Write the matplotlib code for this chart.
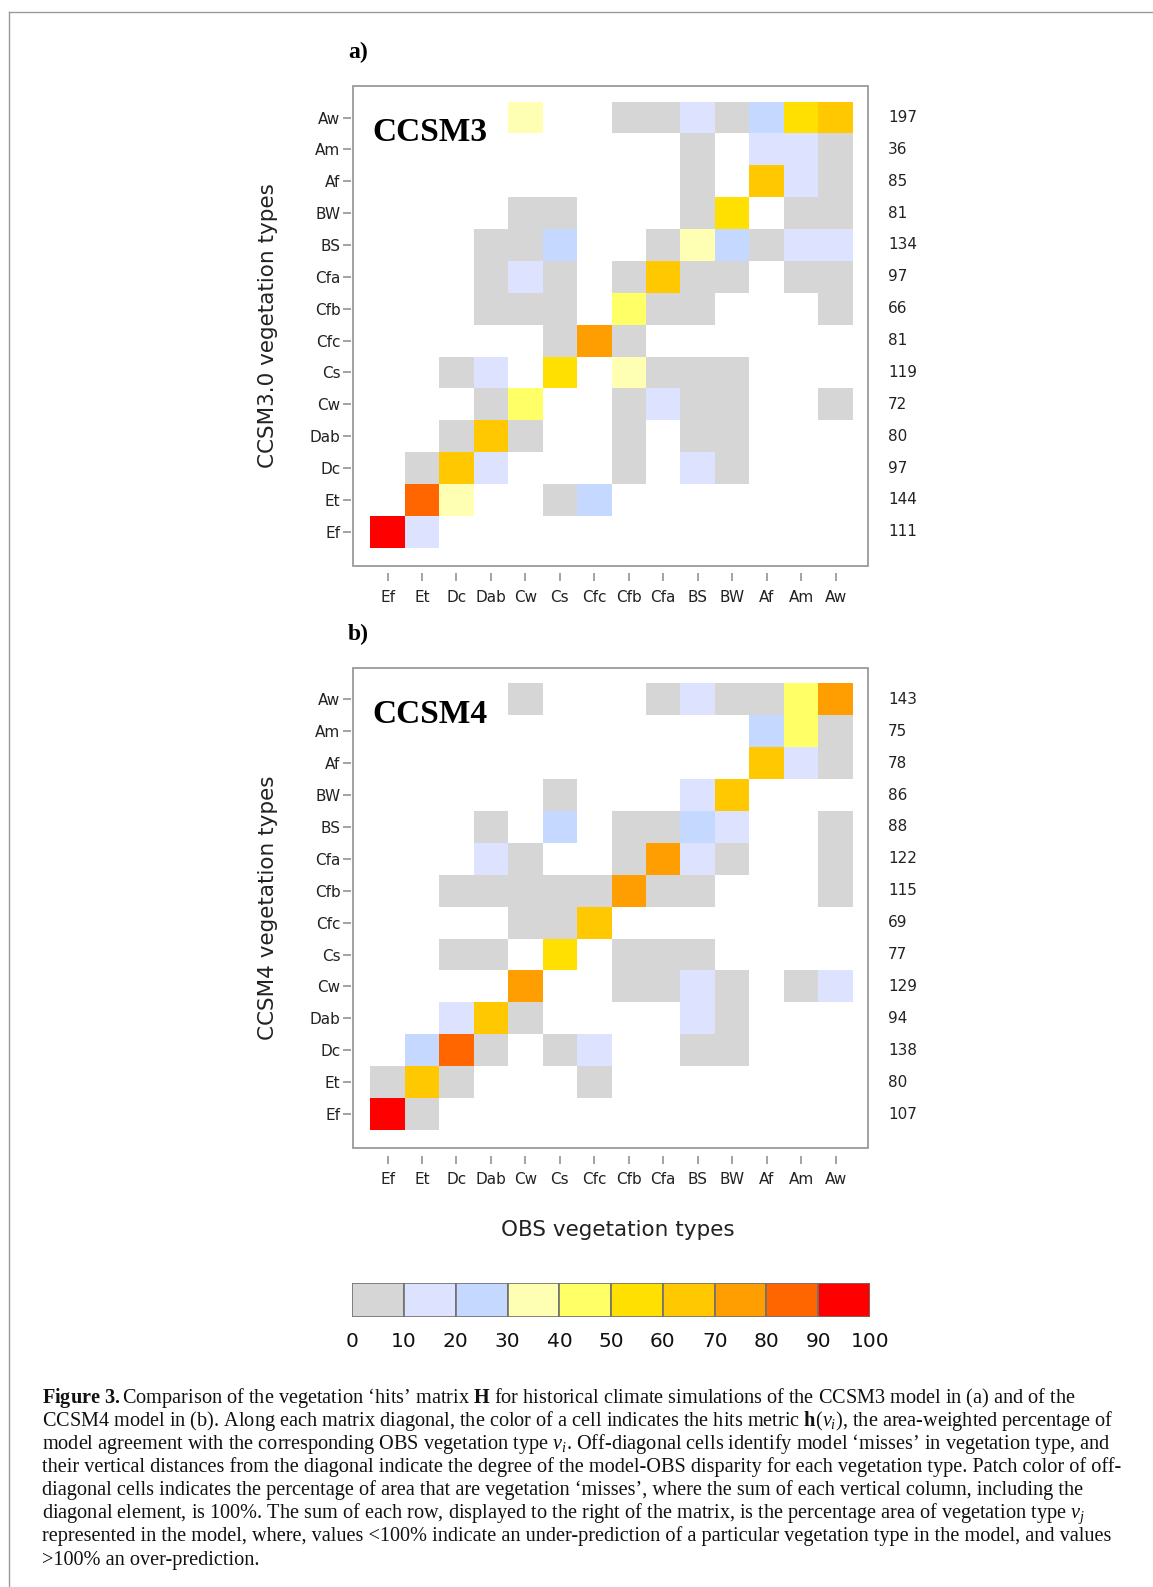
import numpy as np
import matplotlib.pyplot as plt
from matplotlib.colors import ListedColormap, BoundaryNorm
from matplotlib.patches import Rectangle
from matplotlib.lines import Line2D

plt.rcParams['mathtext.fontset'] = 'custom'
plt.rcParams['mathtext.rm'] = 'Liberation Serif'
plt.rcParams['mathtext.it'] = 'Liberation Serif:italic'
plt.rcParams['mathtext.bf'] = 'Liberation Serif:bold'

# vegetation types, OBS on x (left -> right), model on y (bottom -> top)
types = ['Ef', 'Et', 'Dc', 'Dab', 'Cw', 'Cs', 'Cfc', 'Cfb', 'Cfa', 'BS', 'BW', 'Af', 'Am', 'Aw']

# hits matrix in %, rows from top (Aw) down to Ef, columns follow `types`, 0 = empty
#               Ef  Et  Dc Dab  Cw  Cs Cfc Cfb Cfa  BS  BW  Af  Am  Aw
hits_ccsm3 = [[ 0,  0,  0,  0, 33,  0,  0,  4,  6, 12,  7, 22, 54, 63],   # Aw
              [ 0,  0,  0,  0,  0,  0,  0,  0,  0,  3,  0, 13, 16,  4],   # Am
              [ 0,  0,  0,  0,  0,  0,  0,  0,  0,  2,  0, 64, 14,  5],   # Af
              [ 0,  0,  0,  0,  5,  3,  0,  0,  0,  6, 57,  0,  4,  6],   # BW
              [ 0,  0,  0,  4,  8, 21,  0,  0,  7, 36, 23,  2, 11, 12],   # BS
              [ 0,  0,  0,  3, 11,  6,  0,  8, 62,  5,  3,  0,  2,  4],   # Cfa
              [ 0,  0,  0,  2,  5,  4,  0, 47,  7,  3,  0,  0,  0,  2],   # Cfb
              [ 0,  0,  0,  0,  0,  3, 76,  2,  0,  0,  0,  0,  0,  0],   # Cfc
              [ 0,  0,  3, 12,  0, 57,  0, 34,  6,  5,  2,  0,  0,  0],   # Cs
              [ 0,  0,  0,  5, 44,  0,  0,  4, 13,  4,  2,  0,  0,  1],   # Cw
              [ 0,  0,  6, 63,  4,  0,  0,  2,  0,  3,  2,  0,  0,  0],   # Dab
              [ 0,  3, 66, 11,  0,  0,  0,  3,  0, 12,  2,  0,  0,  0],   # Dc
              [ 0, 86, 32,  0,  0,  3, 22,  0,  0,  0,  0,  0,  0,  0],   # Et
              [97, 11,  0,  0,  0,  0,  0,  0,  0,  0,  0,  0,  0,  0]]   # Ef

hits_ccsm4 = [[ 0,  0,  0,  0,  3,  0,  0,  0,  4, 13,  6,  5, 46, 74],   # Aw
              [ 0,  0,  0,  0,  0,  0,  0,  0,  0,  0,  0, 23, 44,  8],   # Am
              [ 0,  0,  0,  0,  0,  0,  0,  0,  0,  0,  0, 62, 12,  4],   # Af
              [ 0,  0,  0,  0,  0,  3,  0,  0,  0, 13, 66,  0,  0,  0],   # BW
              [ 0,  0,  0,  4,  0, 22,  0,  5,  6, 26, 14,  0,  0,  5],   # BS
              [ 0,  0,  0, 13,  4,  0,  0,  6, 73, 15,  5,  0,  0,  6],   # Cfa
              [ 0,  0,  5,  4,  3,  4,  3, 76,  7,  6,  0,  0,  0,  5],   # Cfb
              [ 0,  0,  0,  0,  3,  4, 62,  0,  0,  0,  0,  0,  0,  0],   # Cfc
              [ 0,  0,  4,  3,  0, 57,  0,  5,  3,  5,  0,  0,  0,  0],   # Cs
              [ 0,  0,  0,  0, 77,  0,  0,  4,  3, 14,  5,  0,  2, 12],   # Cw
              [ 0,  0, 13, 64,  4,  0,  0,  0,  0, 11,  3,  0,  0,  0],   # Dab
              [ 0, 22, 84,  6,  0,  2, 16,  0,  0,  4,  4,  0,  0,  0],   # Dc
              [ 5, 66,  4,  0,  0,  0,  5,  0,  0,  0,  0,  0,  0,  0],   # Et
              [95,  7,  0,  0,  0,  0,  0,  0,  0,  0,  0,  0,  0,  0]]   # Ef

# row sums printed right of each matrix, top (Aw) to bottom (Ef)
rowsum_ccsm3 = [197, 36, 85, 81, 134, 97, 66, 81, 119, 72, 80, 97, 144, 111]
rowsum_ccsm4 = [143, 75, 78, 86, 88, 122, 115, 69, 77, 129, 94, 138, 80, 107]

# colour scale
bounds = [0, 10, 20, 30, 40, 50, 60, 70, 80, 90, 100]
bin_colors = ['#D6D6D6', '#DDE2FF', '#C5D8FF', '#FFFFB3', '#FFFF66',
              '#FFE000', '#FFC800', '#FF9E00', '#FF6600', '#FF0000']

caption = [
    r'$\mathbf{Figure\ 3.}$Comparison of the vegetation ‘hits’ matrix $\mathbf{H}$ for historical climate simulations of the CCSM3 model in (a) and of the',
    r'CCSM4 model in (b). Along each matrix diagonal, the color of a cell indicates the hits metric $\mathbf{h}$($v_i$), the area-weighted percentage of',
    r'model agreement with the corresponding OBS vegetation type $v_i$. Off-diagonal cells identify model ‘misses’ in vegetation type, and',
    r'their vertical distances from the diagonal indicate the degree of the model-OBS disparity for each vegetation type. Patch color of off-',
    r'diagonal cells indicates the percentage of area that are vegetation ‘misses’, where the sum of each vertical column, including the',
    r'diagonal element, is 100%. The sum of each row, displayed to the right of the matrix, is the percentage area of vegetation type $v_j$',
    r'represented in the model, where, values <100% indicate an under-prediction of a particular vegetation type in the model, and values',
    r'>100% an over-prediction.',
]

W, H = 1153, 1587
fig = plt.figure(figsize=(W / 100, H / 100), dpi=100)

def fx(x):
    return x / W

def fy(y):
    return 1 - y / H

cmap = ListedColormap(bin_colors)
norm = BoundaryNorm(bounds, cmap.N)
frame_col = '#9a9a9a'

def draw_panel(top, bottom, hits, rowsum, name, ylabel, letter):
    ax = fig.add_axes([fx(352.7), fy(bottom), fx(868.3) - fx(352.7), (bottom - top) / H])
    data = np.ma.masked_equal(np.array(hits[::-1], dtype=float), 0)
    edges = np.arange(len(types) + 1) - 0.5
    ax.pcolormesh(edges, edges, data, cmap=cmap, norm=norm, antialiased=False)
    ax.set_xlim(-1.01, 13.95)
    ax.set_ylim(-1.065, 13.99)

    # detached ticks like the original, frame drawn separately
    for s in ax.spines.values():
        s.set_visible(False)
    ax.spines['bottom'].set_position(('outward', 5.5))
    ax.spines['left'].set_position(('outward', 1.2))
    ax.add_patch(Rectangle((0, 0), 1, 1, transform=ax.transAxes, fill=False,
                           ec=frame_col, lw=1.3, clip_on=False, zorder=5))
    ax.set_xticks(range(len(types)))
    ax.set_xticklabels(types)
    ax.set_yticks(range(len(types)))
    ax.set_yticklabels(types)
    ax.tick_params(axis='x', length=5.5, width=1.1, color='#8a8a8a', pad=6.5,
                   labelsize=11, labelcolor='#222222')
    ax.tick_params(axis='y', length=5.5, width=1.1, color='#8a8a8a', pad=2,
                   labelsize=11, labelcolor='#222222')

    for i, v in enumerate(rowsum[::-1]):
        ax.text(1.038, i, str(v), transform=ax.get_yaxis_transform(),
                ha='left', va='center', fontsize=11, color='#222222')

    fig.text(fx(372), fy(top + 55), name, family='Liberation Serif', weight='bold',
             fontsize=24, va='baseline', ha='left')
    fig.text(fx(348), fy(top - 33.5), letter, family='Liberation Serif', weight='bold',
             fontsize=17, va='center', ha='left')
    fig.text(fx(268), fy((top + bottom) / 2), ylabel, rotation=90,
             ha='center', va='center', fontsize=15.5, color='#222222')
    return ax

draw_panel(86, 565.7, hits_ccsm3, rowsum_ccsm3, 'CCSM3', 'CCSM3.0 vegetation types', 'a)')
draw_panel(667.8, 1148, hits_ccsm4, rowsum_ccsm4, 'CCSM4', 'CCSM4 vegetation types', 'b)')

fig.text(fx(618), fy(1230), 'OBS vegetation types', ha='center', va='center',
         fontsize=15.5, color='#222222')

# colour bar
cax = fig.add_axes([fx(352.3), fy(1316.7), fx(870) - fx(352.3), (1316.7 - 1283.3) / H])
cax.bar(bounds[:-1], 1, width=10, align='edge', color=bin_colors,
        edgecolor='#707070', linewidth=1.2)
cax.set_xlim(0, 100)
cax.set_ylim(0, 1)
for s in cax.spines.values():
    s.set_visible(False)
cax.set_yticks([])
cax.set_xticks(bounds)
cax.set_xticklabels([str(b) for b in bounds])
cax.tick_params(axis='x', length=0, pad=11, labelsize=14.5, labelcolor='#111111')

# caption
for k, line in enumerate(caption):
    fig.text(fx(42), fy(1396.8 + 23.1 * k + 6), line, family='Liberation Serif',
             fontsize=14.6, va='baseline', ha='left', color='#111111')

# box lines of the page
fig.add_artist(Line2D([fx(9), 1], [fy(12.3), fy(12.3)], transform=fig.transFigure,
                      color='#999999', lw=1))
fig.add_artist(Line2D([fx(9), fx(9)], [fy(12.3), 0], transform=fig.transFigure,
                      color='#999999', lw=1))

fig.savefig('out.png', dpi=100)
